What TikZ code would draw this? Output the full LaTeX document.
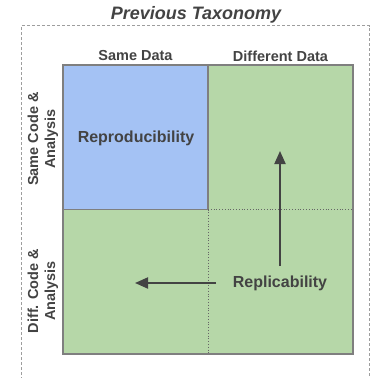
\documentclass[tikz,border=0pt]{standalone}
\usepackage{fontspec}
\setmainfont{Liberation Sans}
\usetikzlibrary{arrows.meta}
\definecolor{cblue}{HTML}{A4C2F4}
\definecolor{cgreen}{HTML}{B6D7A8}
\definecolor{ctext}{HTML}{434343}
\definecolor{cborder}{HTML}{7F7F7F}
\definecolor{cframe}{HTML}{9E9E9E}
\tikzset{
  lbl/.style={text=ctext, font=\fontsize{14.5}{17}\selectfont\bfseries, inner sep=0pt, align=center},
  biglbl/.style={text=ctext, font=\fontsize{16}{19}\selectfont\bfseries, inner sep=0pt},
  ttl/.style={text=ctext, font=\fontsize{18}{21}\selectfont\bfseries\itshape, inner sep=0pt},
  flow/.style={draw=ctext, line width=2pt, -{Triangle[length=13pt,width=11pt]}},
  sep/.style={draw=cborder!80!black, line width=0.8pt, dotted},
}
\begin{document}
\begin{tikzpicture}[x=1pt,y=-1pt]
\useasboundingbox (0,0) rectangle (372,378);
\clip (0,0) rectangle (372,378);
% outer dashed frame
\draw[cframe, line width=0.9pt, dash pattern=on 3pt off 2pt] (21.5,390) -- (21.5,25.5) -- (369.5,25.5) -- (369.5,390);
% cells
\fill[cgreen] (63,65) rectangle (353,354);
\fill[cblue] (63,65) rectangle (208,209.5);
\draw[cborder, line width=1.2pt] (208,65) -- (208,209.5) -- (63,209.5);
\draw[sep] (208,209.5) -- (353,209.5);
\draw[sep] (208,209.5) -- (208,354);
\draw[cborder, line width=1.2pt] (63,65) rectangle (353,354);
% texts
\node[ttl] (title) at (196,15) {Previous Taxonomy};
\node[lbl] (sd) at (135.5,56) {Same Data};
\node[lbl] (dd) at (280.5,56) {Different Data};
\node[lbl, rotate=90] (sc) at (43,139) {Same Code \&\\Analysis};
\node[lbl, rotate=90] (dc) at (43,291) {Diff. Code \&\\Analysis};
\node[biglbl] (repro) at (136,138) {Reproducibility};
\node[biglbl] (repli) at (280,283) {Replicability};
% arrows
\coordinate (upS) at (280,266);
\coordinate (upE) at (280,151);
\coordinate (lfS) at (216,283);
\coordinate (lfE) at (135,283);
\draw[flow] (upS) -- (upE);
\draw[flow] (lfS) -- (lfE);
\end{tikzpicture}
\end{document}
